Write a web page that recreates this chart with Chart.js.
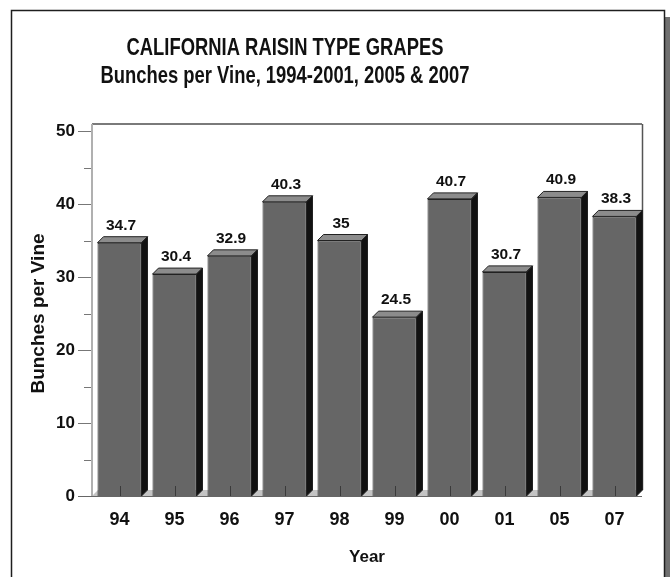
<!DOCTYPE html>
<html>
<head>
<meta charset="utf-8">
<script src="https://cdn.jsdelivr.net/npm/chart.js@4/dist/chart.umd.min.js"></script>
<style>
html,body{margin:0;padding:0;background:#fff;}
#wrap{position:relative;width:670px;height:577px;}
canvas{display:block;}
</style>
</head>
<body>
<div id="wrap"><canvas id="c" width="670" height="577"></canvas></div>
<script>
const categories = ['94','95','96','97','98','99','00','01','05','07'];
const bunchesPerVine = [34.7, 30.4, 32.9, 40.3, 35, 24.5, 40.7, 30.7, 40.9, 38.3];
const yTickValues = [0, 10, 20, 30, 40, 50];
const titleLines = ['CALIFORNIA RAISIN TYPE GRAPES', 'Bunches per Vine, 1994-2001, 2005 & 2007'];

const DX = 6, DY = 6;
const TITLE_FONT = "bold 23px 'Liberation Sans', Arial, sans-serif";

const framePlugin = {
  id: 'frame',
  beforeDraw(chart) {
    const ctx = chart.ctx;
    ctx.save();
    ctx.fillStyle = '#fff';
    ctx.fillRect(0, 0, chart.width, chart.height);
    // shadow
    ctx.fillStyle = '#707070';
    ctx.fillRect(665, 17, 5, 600);
    // border
    ctx.strokeStyle = '#1e1e1e';
    ctx.lineWidth = 1.5;
    ctx.strokeRect(11.5, 10.5, 653, 620);
    // title (condensed horizontally)
    ctx.fillStyle = '#111';
    ctx.font = TITLE_FONT;
    ctx.textAlign = 'center';
    ctx.textBaseline = 'alphabetic';
    const ys = [55, 83];
    titleLines.forEach((t, i) => {
      ctx.save();
      ctx.translate(285, ys[i]);
      ctx.scale(0.8, 1);
      ctx.fillText(t, 0, 0);
      ctx.restore();
    });
    ctx.restore();
  },
  beforeDatasetsDraw(chart) {
    const ctx = chart.ctx;
    const a = chart.chartArea;
    const y = chart.scales.y;
    ctx.save();
    // floor strip
    ctx.fillStyle = '#c4c4c4';
    ctx.beginPath();
    ctx.moveTo(a.left, a.bottom);
    ctx.lineTo(a.left + DX, a.bottom - DY);
    ctx.lineTo(a.right, a.bottom - DY);
    ctx.lineTo(a.right - DX, a.bottom);
    ctx.closePath();
    ctx.fill();
    // back wall lines
    const wallTop = y.getPixelForValue(50) - 7;
    ctx.strokeStyle = '#7a7a7a';
    ctx.lineWidth = 2;
    ctx.beginPath();
    ctx.moveTo(a.left, wallTop);
    ctx.lineTo(a.right, wallTop);
    ctx.stroke();
    ctx.lineWidth = 1.5;
    ctx.strokeStyle = '#555';
    ctx.beginPath();
    ctx.moveTo(a.right + 0.5, wallTop);
    ctx.lineTo(a.right + 0.5, a.bottom - DY);
    ctx.stroke();
    ctx.strokeStyle = '#b0b0b0';
    ctx.lineWidth = 2;
    ctx.beginPath();
    ctx.moveTo(a.left, wallTop);
    ctx.lineTo(a.left, a.bottom);
    ctx.stroke();
    // y ticks (major + minor)
    ctx.strokeStyle = '#777';
    ctx.lineWidth = 1;
    for (let v = 0; v <= 50; v += 5) {
      const py = Math.round(y.getPixelForValue(v)) + 0.5;
      const len = (v % 10 === 0) ? 12 : 6;
      ctx.beginPath();
      ctx.moveTo(a.left - 2 - len, py);
      ctx.lineTo(a.left - 1, py);
      ctx.stroke();
    }
    // x axis base line
    ctx.strokeStyle = '#666';
    ctx.beginPath();
    ctx.moveTo(a.left - 14, a.bottom + 0.5);
    ctx.lineTo(a.right, a.bottom + 0.5);
    ctx.stroke();
    ctx.restore();
  },
  afterDatasetsDraw(chart) {
    const ctx = chart.ctx;
    const meta = chart.getDatasetMeta(0);
    ctx.save();
    meta.data.forEach((bar, i) => {
      const {x, y, width, base} = bar.getProps(['x', 'y', 'width', 'base'], true);
      const l = x - width / 2, r = x + width / 2;
      // top face
      ctx.fillStyle = '#8c8c8c';
      ctx.strokeStyle = '#222';
      ctx.lineWidth = 1;
      ctx.beginPath();
      ctx.moveTo(l, y);
      ctx.lineTo(l + DX, y - DY);
      ctx.lineTo(r + DX, y - DY);
      ctx.lineTo(r, y);
      ctx.closePath();
      ctx.fill();
      ctx.stroke();
      // side face
      ctx.fillStyle = '#121212';
      ctx.beginPath();
      ctx.moveTo(r, y);
      ctx.lineTo(r + DX, y - DY);
      ctx.lineTo(r + DX, base - DY);
      ctx.lineTo(r, base);
      ctx.closePath();
      ctx.fill();
      ctx.stroke();
      // x tick inside bar
      ctx.strokeStyle = '#3a3a3a';
      ctx.beginPath();
      ctx.moveTo(Math.round(x) + 0.5, base);
      ctx.lineTo(Math.round(x) + 0.5, base - 10);
      ctx.stroke();
      // value label
      ctx.fillStyle = '#111';
      ctx.font = "bold 15.5px 'Liberation Sans', Arial, sans-serif";
      ctx.textAlign = 'center';
      ctx.textBaseline = 'alphabetic';
      ctx.fillText(String(bunchesPerVine[i]), x + 1.5, y - DY - 7);
    });
    ctx.restore();
  }
};

new Chart(document.getElementById('c'), {
  type: 'bar',
  data: {
    labels: categories,
    datasets: [{
      data: bunchesPerVine,
      backgroundColor: '#666666',
      borderColor: '#222',
      borderWidth: 1,
      barPercentage: 0.8,
      categoryPercentage: 1.0
    }]
  },
  options: {
    responsive: false,
    animation: false,
    devicePixelRatio: 1,
    layout: { padding: { top: 131, right: 28, left: 0, bottom: 0 } },
    plugins: {
      legend: { display: false },
      title: { display: false },
      tooltip: { enabled: false }
    },
    scales: {
      x: {
        grid: { display: false, drawTicks: false },
        border: { display: false },
        ticks: {
          color: '#111',
          font: { family: "'Liberation Sans', Arial, sans-serif", size: 18, weight: 'bold' },
          padding: 13,
          maxRotation: 0
        },
        title: {
          display: true,
          text: 'Year',
          color: '#111',
          font: { family: "'Liberation Sans', Arial, sans-serif", size: 17, weight: 'bold' },
          padding: { top: 0, bottom: 9 }
        },
        afterFit(scale) { scale.height = 81; }
      },
      y: {
        min: 0,
        max: 50,
        afterBuildTicks(scale) { scale.ticks = yTickValues.map(v => ({ value: v })); },
        grid: { display: false, drawTicks: false },
        border: { display: false },
        ticks: {
          color: '#111',
          font: { family: "'Liberation Sans', Arial, sans-serif", size: 17, weight: 'bold' },
          padding: 17
        },
        title: {
          display: true,
          text: 'Bunches per Vine',
          color: '#111',
          font: { family: "'Liberation Sans', Arial, sans-serif", size: 19, weight: 'bold' },
          padding: { top: 27, bottom: 0 }
        },
        afterFit(scale) { scale.width = 92; }
      }
    }
  },
  plugins: [framePlugin]
});
</script>
</body>
</html>
